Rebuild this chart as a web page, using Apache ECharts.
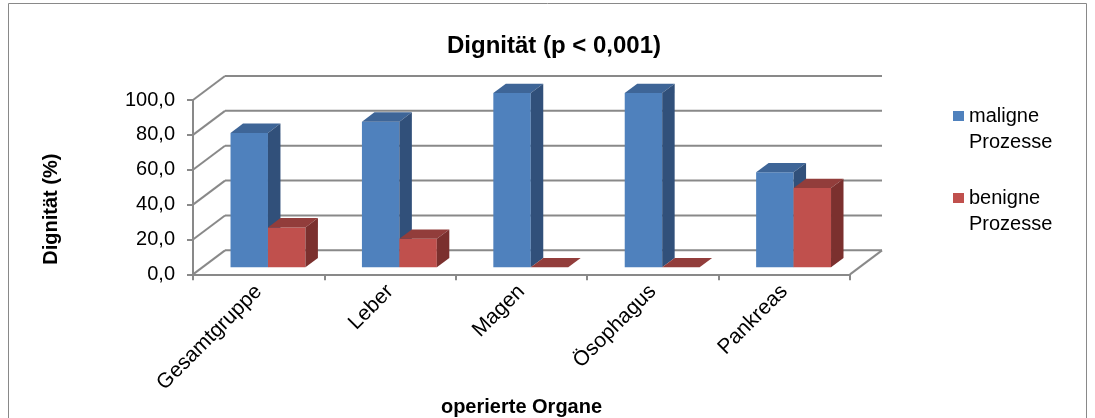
<!DOCTYPE html>
<html>
<head>
<meta charset="UTF-8">
<title>Dignität</title>
<script src="https://cdn.jsdelivr.net/npm/echarts@6/dist/echarts.min.js"></script>
<style>
  html, body { margin: 0; padding: 0; background: #fff; }
  #chart { width: 1095px; height: 418px; }
</style>
</head>
<body>
<div id="chart"></div>
<script>
// Daten
var organe = ['Gesamtgruppe', 'Leber', 'Magen', 'Ösophagus', 'Pankreas'];
var maligne = [77.1, 83.6, 100.0, 100.0, 54.5];
var benigne = [22.9, 16.4, 0.0, 0.0, 45.5];
var yTicks = [0, 20, 40, 60, 80, 100];

// Tiefe der 3D-Ansicht (Pixel)
var DX = 32, DY = -24;
var F0 = 0.29, FD = 0.39;   // Lage / Tiefe der Säulen im Boden

var frontCol = ['#4F81BD', '#C0504D'];
var topCol = ['#3E6597', '#923D3B'];
var sideCol = ['#31507A', '#7B302E'];

function barItem(s) {
  return function (params, api) {
    var i = api.value(0), v = api.value(1);
    var base = api.coord([i, 0]);
    var top = api.coord([i, v]);
    var band = api.size([1, 0])[0];
    var w = band * 0.285;
    var ox = DX * F0, oy = DY * F0;
    var dx = DX * FD, dy = DY * FD;
    var xl = base[0] - w + s * w + ox, xr = xl + w;
    var y0 = base[1] + oy, yt = top[1] + oy;
    return {
      type: 'group',
      children: [
        { type: 'rect', shape: { x: xl, y: yt, width: w, height: y0 - yt }, style: { fill: frontCol[s] } },
        { type: 'polygon', shape: { points: [[xl, yt], [xr, yt], [xr + dx, yt + dy], [xl + dx, yt + dy]] }, style: { fill: topCol[s] } },
        { type: 'polygon', shape: { points: [[xr, yt], [xr + dx, yt + dy], [xr + dx, y0 + dy], [xr, y0]] }, style: { fill: sideCol[s] } }
      ]
    };
  };
}

function wallItem(params, api) {
  var v = api.value(1);
  var cs = params.coordSys;
  var y = api.coord([0, v])[1];
  var x0 = cs.x, x1 = cs.x + cs.width;
  var st = { stroke: '#898989', lineWidth: 2 };
  var kids = [
    { type: 'line', shape: { x1: x0, y1: y, x2: x0 + DX, y2: y + DY }, style: st },
    { type: 'line', shape: { x1: x0 + DX, y1: y + DY, x2: x1 + DX, y2: y + DY }, style: st }
  ];
  if (v === 0) {
    kids.push({ type: 'line', shape: { x1: x1, y1: y, x2: x1 + DX, y2: y + DY }, style: st });
  }
  return { type: 'group', children: kids };
}

var chart = echarts.init(document.getElementById('chart'));
var font = 'Liberation Sans, Arial, sans-serif';

chart.setOption({
  animation: false,
  textStyle: { fontFamily: font },
  title: {
    text: 'Dignität (p < 0,001)',
    left: 447,
    top: 34,
    padding: 0,
    textStyle: { fontFamily: font, fontSize: 24, fontWeight: 'bold', color: '#000' }
  },
  graphic: [{
    type: 'rect',
    shape: { x: 8.5, y: 3.5, width: 1078, height: 440 },
    style: { fill: 'none', stroke: '#898989', lineWidth: 1 },
    silent: true
  }],
  legend: {
    orient: 'vertical',
    left: 953,
    top: 77,
    padding: 0,
    itemWidth: 11,
    itemHeight: 10,
    itemGap: 4,
    icon: 'rect',
    data: ['maligne\nProzesse', 'benigne\nProzesse'],
    // leere erste Zeile, damit das Symbol neben der ersten Textzeile steht
    formatter: function (n) { return ' \n' + n; },
    textStyle: { fontFamily: font, fontSize: 20, color: '#000', lineHeight: 26 }
  },
  grid: { left: 193, right: 245, top: 100, bottom: 143 },
  xAxis: {
    type: 'category',
    data: organe,
    name: 'operierte Organe',
    nameLocation: 'middle',
    nameGap: 120,
    nameTextStyle: { fontFamily: font, fontSize: 20, fontWeight: 'bold', color: '#000' },
    axisLine: { lineStyle: { color: '#898989', width: 2 } },
    axisTick: { show: true, length: 6, lineStyle: { color: '#898989', width: 2 } },
    axisLabel: { rotate: 45, margin: 14, fontSize: 21, color: '#000', fontFamily: font }
  },
  yAxis: {
    type: 'value',
    min: 0,
    max: 100,
    interval: 20,
    name: 'Dignität (%)',
    nameLocation: 'middle',
    nameRotate: 90,
    nameGap: 132,
    nameTextStyle: { fontFamily: font, fontSize: 20, fontWeight: 'bold', color: '#000', padding: [0, 44, 0, 0] },
    axisLine: { show: true, lineStyle: { color: '#898989', width: 2 } },
    axisTick: { show: true, length: 6, lineStyle: { color: '#898989', width: 2 } },
    splitLine: { show: false },
    axisLabel: {
      margin: 18, fontSize: 20, color: '#000', fontFamily: font,
      formatter: function (v) { return v.toFixed(1).replace('.', ','); }
    }
  },
  series: [
    {
      name: 'wand',
      type: 'custom',
      z: 1,
      clip: false,
      silent: true,
      renderItem: wallItem,
      data: yTicks.map(function (v) { return [0, v]; })
    },
    {
      name: 'maligne\nProzesse',
      type: 'custom',
      z: 2,
      clip: false,
      itemStyle: { color: frontCol[0] },
      renderItem: barItem(0),
      data: maligne.map(function (v, i) { return [i, v]; })
    },
    {
      name: 'benigne\nProzesse',
      type: 'custom',
      z: 3,
      clip: false,
      itemStyle: { color: frontCol[1] },
      renderItem: barItem(1),
      data: benigne.map(function (v, i) { return [i, v]; })
    }
  ]
});
</script>
</body>
</html>
